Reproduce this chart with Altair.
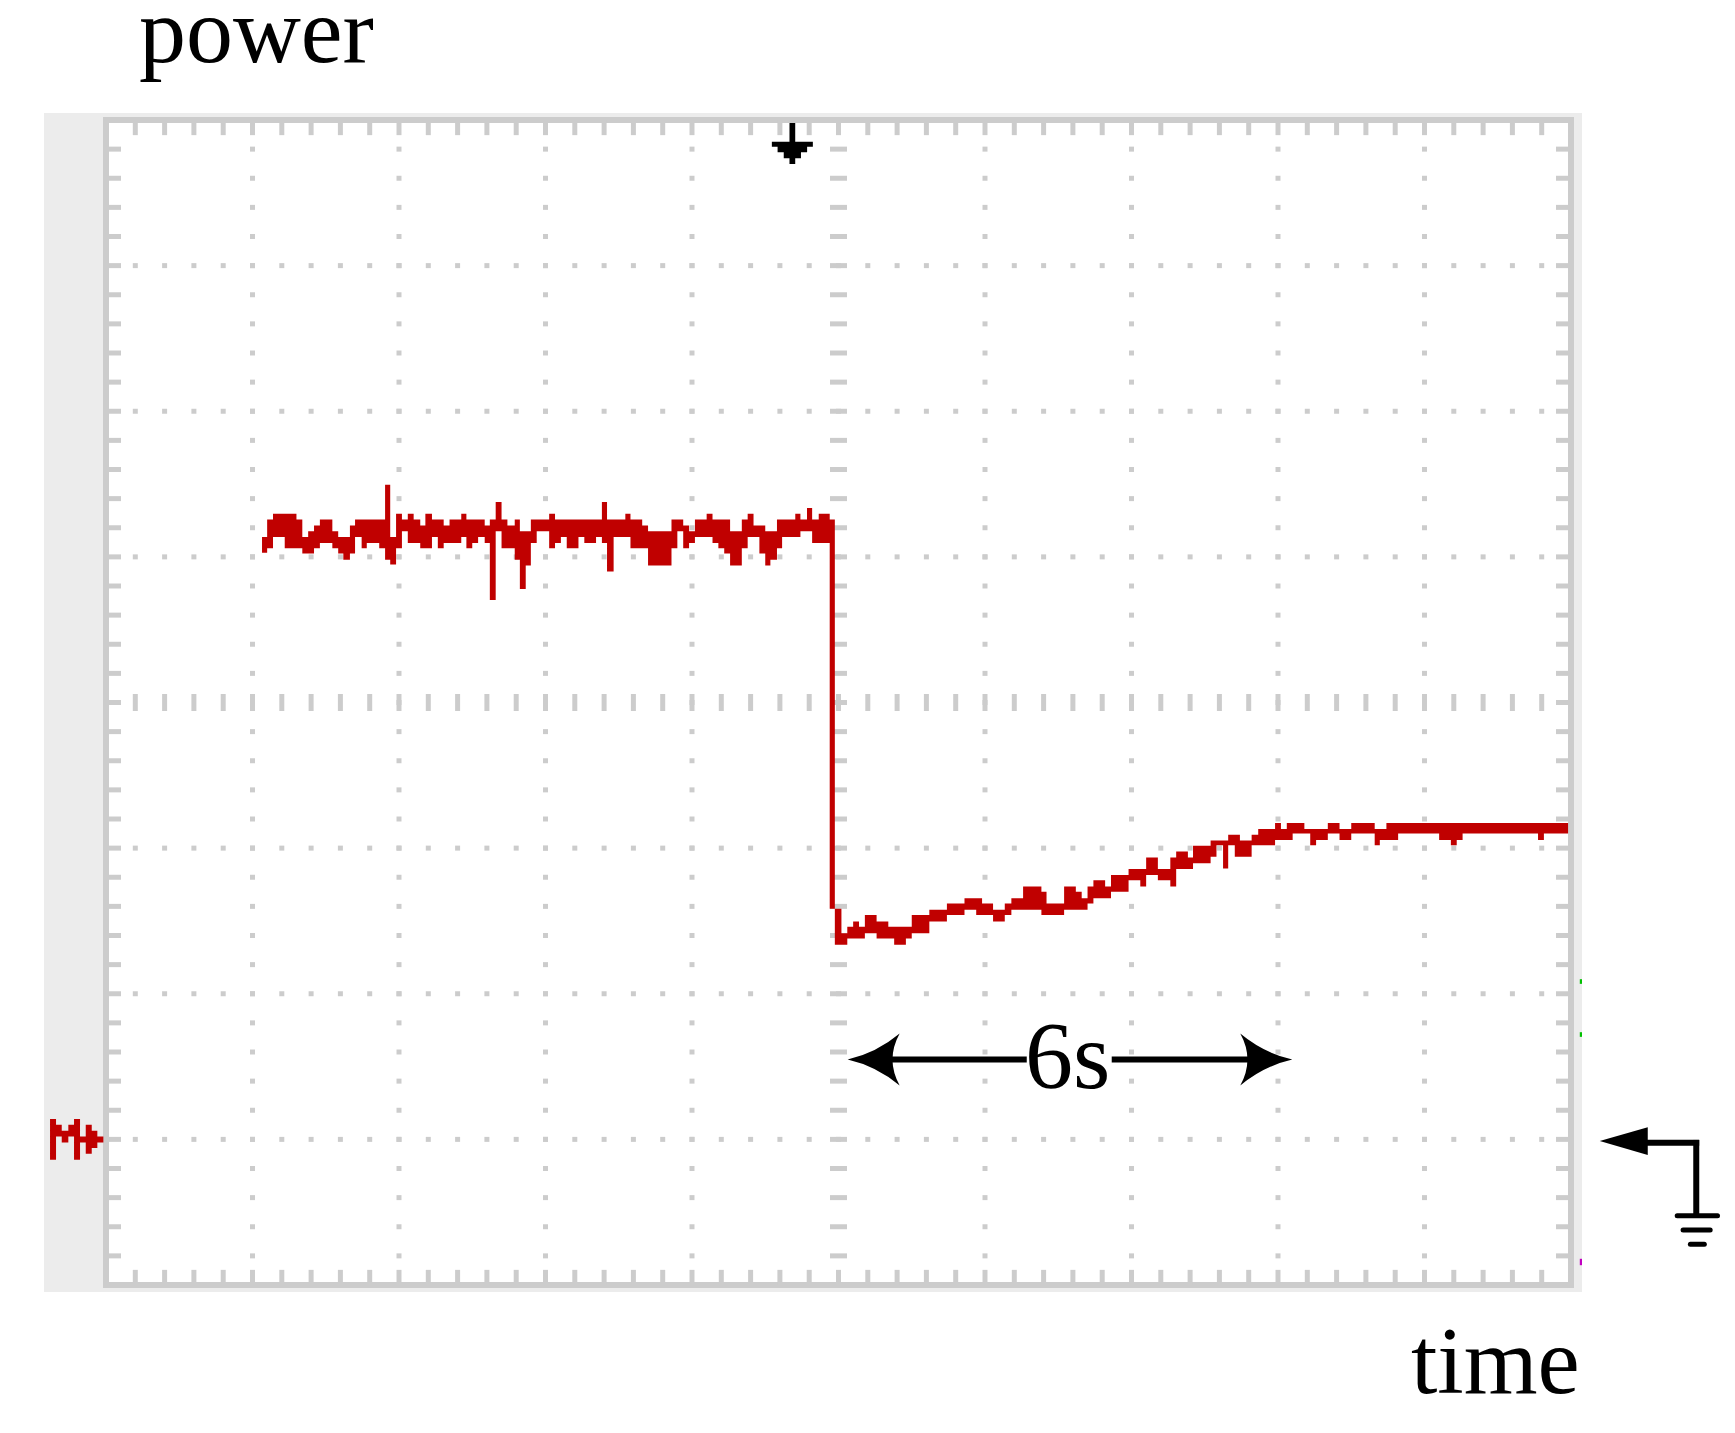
import altair as alt
import pandas as pd

# ---------------- data ----------------
# time in seconds (2 s / division), trace band in screen levels (25 levels / division,
# 0 = bottom of graticule, 200 = top; ground reference at 25)
T = [2.13, 2.20, 2.28, 2.44, 2.60, 2.68, 2.76, 2.84, 2.92, 3.09, 3.17, 3.24, 3.33, 3.40,
     3.49, 3.56, 3.73, 3.81, 3.88, 3.96, 4.04, 4.12, 4.20, 4.29, 4.36, 4.45, 4.53, 4.61,
     4.69, 4.85, 4.92, 5.00, 5.08, 5.17, 5.24, 5.32, 5.40, 5.48, 5.58, 5.65, 5.73, 5.80,
     5.88, 6.05, 6.13, 6.21, 6.29, 6.45, 6.53, 6.69, 6.77, 6.84, 6.93, 7.09, 7.16, 7.32,
     7.40, 7.72, 7.80, 7.88, 7.96, 8.04, 8.20, 8.28, 8.36, 8.44, 8.52, 8.68, 8.76, 8.84,
     8.92, 9.00, 9.07, 9.16, 9.23, 9.41, 9.48, 9.57, 9.64, 9.73, 9.88,
     9.95, 10.04, 10.12, 10.20, 10.28, 10.36, 10.52, 10.68, 10.76, 10.92, 11.00, 11.24,
     11.48, 11.72, 11.88, 11.96, 12.11, 12.27, 12.36, 12.52, 12.77, 12.84, 13.08, 13.24,
     13.32, 13.40, 13.48, 13.64, 13.72, 13.96, 14.12, 14.20, 14.36, 14.53, 14.61, 14.77,
     14.84, 15.08, 15.16, 15.25, 15.32, 15.41, 15.48, 15.64, 15.73, 15.96, 16.04, 16.12,
     16.20, 16.36, 16.44, 16.52, 16.68, 16.84, 17.00, 17.32, 17.39, 17.48, 17.64, 18.20,
     18.28, 18.36, 18.44, 18.52, 19.55, 19.63, 19.96]
HI = [128.4, 131.4, 132.4, 132.4, 131.4, 128.4, 129.4, 130.4, 131.4, 129.4, 128.4, 128.4,
      130.4, 131.4, 131.4, 131.4, 131.4, 137.4, 128.4, 132.4, 131.4, 132.4, 131.4, 130.4,
      132.4, 131.4, 131.4, 130.4, 131.4, 132.4, 131.4, 131.4, 131.4, 130.4, 131.4, 134.4,
      131.4, 130.4, 131.4, 129.4, 129.4, 131.4, 131.4, 132.4, 131.4, 131.4, 131.4, 131.4,
      131.4, 131.4, 134.4, 131.4, 131.4, 132.4, 131.4, 130.4, 129.4, 131.4, 131.4, 130.4,
      129.4, 131.4, 132.4, 131.4, 131.4, 131.4, 129.4, 131.4, 132.4, 130.4, 130.4, 129.4,
      129.4, 131.4, 131.4, 132.4, 131.4, 133.4, 131.4, 132.4, 131.4,
      64.6, 60.4, 61.5, 62.4, 61.5, 63.5, 62.4, 61.5, 61.5, 61.5, 63.5, 64.4,
      65.5, 66.4, 66.4, 65.5, 64.4, 65.5, 66.4, 68.4, 67.5, 65.5, 68.4, 67.5,
      66.4, 68.4, 69.5, 68.4, 70.4, 71.4, 71.4, 73.4, 71.4, 73.4, 74.4, 73.4,
      75.4, 76.3, 76.3, 76.3, 77.3, 77.3, 76.3, 77.3, 78.3, 79.3, 78.3, 79.3,
      79.3, 78.3, 78.3, 78.3, 79.3, 78.3, 79.3, 78.3, 78.3, 79.3, 79.3, 79.3,
      79.3, 79.3, 79.3, 79.3, 79.3, 79.3, 79.3]
LO = [125.7, 126.5, 128.4, 126.5, 126.5, 125.6, 125.6, 126.5, 127.4, 126.5, 125.6, 124.5,
      125.6, 128.4, 126.5, 127.4, 126.5, 124.5, 123.7, 126.5, 129.4, 127.4, 127.4, 126.5,
      126.5, 128.4, 126.5, 127.4, 127.4, 128.4, 126.5, 127.4, 128.4, 127.4, 117.6, 129.4,
      126.5, 126.5, 124.5, 119.5, 123.5, 127.4, 129.4, 126.5, 127.4, 128.4, 126.5, 128.4,
      127.4, 128.4, 127.4, 122.5, 128.4, 128.4, 126.5, 126.5, 123.5, 126.5, 129.4, 126.5,
      127.4, 128.4, 128.4, 127.4, 126.5, 125.6, 123.5, 126.5, 128.4, 128.4, 125.6, 123.5,
      124.5, 126.5, 128.4, 128.4, 129.4, 129.4, 127.4, 127.4, 64.6,
      58.4, 58.4, 59.5, 59.5, 59.5, 60.4, 59.5, 59.5, 58.4, 59.5, 60.4, 62.4,
      63.5, 64.4, 63.5, 63.5, 62.4, 63.5, 64.4, 64.4, 63.5, 63.5, 64.4, 64.4,
      64.4, 65.5, 66.4, 66.4, 67.5, 69.5, 68.4, 70.4, 69.5, 68.4, 71.4, 71.4,
      72.4, 73.5, 75.5, 71.5, 75.5, 73.5, 73.5, 75.5, 75.5, 76.4, 76.4, 76.4,
      77.5, 77.5, 75.5, 76.4, 77.5, 76.4, 77.5, 75.5, 76.4, 76.4, 77.5, 76.4,
      76.4, 75.5, 76.4, 77.5, 76.4, 77.5, 77.5]
assert len(T) == len(HI) == len(LO)

# graticule: 10 x 8 divisions, 5 minor steps per division
X_DIVS = 10
Y_DIVS = 8
SEC_PER_DIV = 2.0
LEVELS_PER_DIV = 25
MINOR = 5

TRACE_COLOR = "#c00000"
GRID_COLOR = "#cccccc"
PANEL_COLOR = "#ececec"
FONT = "Liberation Serif"

XMAX = X_DIVS * SEC_PER_DIV
YMAX = Y_DIVS * LEVELS_PER_DIV
xs = alt.Scale(domain=[0, XMAX], nice=False, zero=False)
ys = alt.Scale(domain=[0, YMAX], nice=False, zero=False)


def X(f):
    return alt.X(f, type="quantitative", scale=xs, axis=None)


def Y(f):
    return alt.Y(f, type="quantitative", scale=ys, axis=None)


def X2(f):
    return alt.X2(f)


def Y2(f):
    return alt.Y2(f)


# ---------------- graticule tables ----------------
minor_t = [i * SEC_PER_DIV / MINOR for i in range(X_DIVS * MINOR + 1)]
minor_l = [j * LEVELS_PER_DIV / MINOR for j in range(Y_DIVS * MINOR + 1)]
major_t = [i * SEC_PER_DIV for i in range(1, X_DIVS) if i != X_DIVS // 2]
major_l = [j * LEVELS_PER_DIV for j in range(1, Y_DIVS) if j != Y_DIVS // 2]
ct = XMAX / 2
cl = YMAX / 2

dots = []
for t in major_t:
    for l in minor_l[1:-1]:
        dots.append({"t": t, "L": l})
for l in major_l:
    for t in minor_t[1:-1]:
        dots.append({"t": t, "L": l})
dots = pd.DataFrame(dots)

vdash = pd.DataFrame({"t": [ct] * (len(minor_l) - 2), "L": minor_l[1:-1]})
hdash = pd.DataFrame({"t": minor_t[1:-1], "L": [cl] * (len(minor_t) - 2)})

TICK_T = 0.205   # border tick length in seconds (horizontal)
TICK_L = 2.6     # border tick length in levels (vertical)
bt = []
for t in minor_t[1:-1]:
    bt.append({"t": t, "t2": t, "L": YMAX, "L2": YMAX - TICK_L})
    bt.append({"t": t, "t2": t, "L": 0, "L2": TICK_L})
for l in minor_l[1:-1]:
    bt.append({"t": 0, "t2": TICK_T, "L": l, "L2": l})
    bt.append({"t": XMAX, "t2": XMAX - TICK_T, "L": l, "L2": l})
bt = pd.DataFrame(bt)

panel = pd.DataFrame({"t": [-0.846], "t2": [20.15], "L": [-1.2], "L2": [201.2]})
frame = pd.DataFrame({"t": [0], "t2": [XMAX], "L": [0], "L2": [YMAX]})

trace = pd.DataFrame({"t": T, "hi": HI, "lo": LO})

# ---------------- layers ----------------
l_panel = alt.Chart(panel).mark_rect(color=PANEL_COLOR).encode(
    x=X("t"), x2=X2("t2"), y=Y("L"), y2=Y2("L2"))
l_frame = alt.Chart(frame).mark_rect(fill="white", stroke=GRID_COLOR, strokeWidth=6).encode(
    x=X("t"), x2=X2("t2"), y=Y("L"), y2=Y2("L2"))
l_bt = alt.Chart(bt).mark_rule(color=GRID_COLOR, strokeWidth=5).encode(
    x=X("t"), x2=X2("t2"), y=Y("L"), y2=Y2("L2"))
l_dots = alt.Chart(dots).mark_square(size=25, color=GRID_COLOR, opacity=1, strokeWidth=0).encode(
    x=X("t"), y=Y("L"))
l_vdash = alt.Chart(vdash).mark_tick(orient="horizontal", size=17, thickness=5,
                                     color=GRID_COLOR, opacity=1).encode(x=X("t"), y=Y("L"))
l_hdash = alt.Chart(hdash).mark_tick(orient="vertical", size=17, thickness=5,
                                     color=GRID_COLOR, opacity=1).encode(x=X("t"), y=Y("L"))

l_trace = alt.Chart(trace).mark_area(interpolate="step-after", color=TRACE_COLOR,
                                     opacity=1).encode(x=X("t"), y=Y("hi"), y2=Y2("lo"))

# ---------------- annotations ----------------
labels_left = pd.DataFrame({"t": [0.45], "L": [210.0], "txt": ["power"]})
labels_right = pd.DataFrame({"t": [20.12], "L": [-18.5], "txt": ["time"]})
labels_mid = pd.DataFrame({"t": [13.13], "L": [33.8], "txt": ["6s"]})


def txt(df, align, size):
    return alt.Chart(df).mark_text(font=FONT, fontSize=size, align=align,
                                   baseline="alphabetic", color="black").encode(
        x=X("t"), y=Y("L"), text="txt:N")


span = pd.DataFrame({"t": [10.5, 13.73], "t2": [12.57, 15.8], "L": [38.7, 38.7]})
l_span = alt.Chart(span).mark_rule(color="black", strokeWidth=6).encode(
    x=X("t"), x2=X2("t2"), y=Y("L"))

ARROW_L = "M -1 0 Q 0.1 -0.25 1 -1 Q 0.45 0 1 1 Q 0.1 0.25 -1 0 Z"
ARROW_R = "M 1 0 Q -0.1 -0.25 -1 -1 Q -0.45 0 -1 1 Q -0.1 0.25 1 0 Z"
l_ahl = alt.Chart(pd.DataFrame({"t": [10.48], "L": [38.7]})).mark_point(
    shape=ARROW_L, size=2704, filled=True, color="black", opacity=1, strokeWidth=0).encode(
    x=X("t"), y=Y("L"))
l_ahr = alt.Chart(pd.DataFrame({"t": [15.84], "L": [38.7]})).mark_point(
    shape=ARROW_R, size=2704, filled=True, color="black", opacity=1, strokeWidth=0).encode(
    x=X("t"), y=Y("L"))

TRIG = ("M -0.14 -1 L 0.14 -1 L 0.14 -0.09 L 1 -0.09 L 1 0.16 L 0.72 0.16 L 0.72 0.43 "
        "L 0.42 0.43 L 0.42 0.72 L 0.14 0.72 L 0.14 1 L -0.14 1 L -0.14 0.72 L -0.42 0.72 "
        "L -0.42 0.43 L -0.72 0.43 L -0.72 0.16 L -1 0.16 L -1 -0.09 L -0.14 -0.09 Z")
l_trig = alt.Chart(pd.DataFrame({"t": [9.37], "L": [195.96]})).mark_point(
    shape=TRIG, size=1681, filled=True, color="black", opacity=1, strokeWidth=0).encode(
    x=X("t"), y=Y("L"))


def rp(u0, u1, v0, v1):
    return f"M {u0} {v0} L {u1} {v0} L {u1} {v1} L {u0} {v1} Z "


GND_L = (rp(-1, -0.775, -0.764, 0.763) + rp(-0.775, -0.561, -0.55, -0.111) +
         rp(-0.561, -0.314, -0.325, 0.114) + rp(-0.314, -0.1, -0.55, -0.111) +
         rp(-0.1, 0.125, -0.764, 0.763) + rp(0.125, 0.339, -0.111, 0.114) +
         rp(0.339, 0.564, -0.55, 0.537) + rp(0.564, 0.774, -0.325, 0.324) +
         rp(0.774, 1.0, -0.111, 0.114))
l_gndl = alt.Chart(pd.DataFrame({"t": [-0.40], "L": [25.0]})).mark_point(
    shape=GND_L, size=2844, filled=True, color=TRACE_COLOR, opacity=1, strokeWidth=0).encode(
    x=X("t"), y=Y("L"))

TRI_L = "M -1 0 L 1 -0.58 L 1 0.58 Z"
l_gndr_head = alt.Chart(pd.DataFrame({"t": [20.72], "L": [24.7]})).mark_point(
    shape=TRI_L, size=2304, filled=True, color="black", opacity=1, strokeWidth=0).encode(
    x=X("t"), y=Y("L"))
gnd_lines = pd.DataFrame({"t": [21.0, 21.71], "t2": [21.75, 21.71], "L": [24.4, 24.9],
                          "L2": [24.4, 12.0]})
l_gndr_lines = alt.Chart(gnd_lines).mark_rule(color="black", strokeWidth=6).encode(
    x=X("t"), x2=X2("t2"), y=Y("L"), y2=Y2("L2"))
gnd_bars = pd.DataFrame({"t": [21.45, 21.53, 21.63], "t2": [22.00, 21.90, 21.82],
                         "L": [11.88, 9.44, 7.0]})
l_gndr_bars = alt.Chart(gnd_bars).mark_rule(color="black", strokeWidth=5, strokeCap="round").encode(
    x=X("t"), x2=X2("t2"), y=Y("L"))

flags = pd.DataFrame({"t": [20.12, 20.12, 20.12], "t2": [20.15, 20.15, 20.15],
                      "L": [51.7, 42.6, 3.4], "L2": [52.5, 43.4, 4.5],
                      "c": ["#00c000", "#00c000", "#c000c0"]})
l_flags = alt.Chart(flags).mark_rect().encode(
    x=X("t"), x2=X2("t2"), y=Y("L"), y2=Y2("L2"), color=alt.Color("c:N", scale=None))

chart = alt.layer(
    l_panel, l_frame, l_bt, l_dots, l_vdash, l_hdash, l_trace,
    txt(labels_left, "left", 94), txt(labels_right, "right", 95), txt(labels_mid, "center", 96),
    l_span, l_ahl, l_ahr, l_trig, l_gndl, l_gndr_head, l_gndr_lines, l_gndr_bars, l_flags,
).properties(
    width=1465, height=1165,
    padding={"left": 98, "top": 112, "right": 152, "bottom": 130},
    autosize=alt.AutoSizeParams(type="none"),
    background="white",
).configure_view(stroke="transparent")

chart.save("out.html", embed_options={"renderer": "svg", "actions": False})
